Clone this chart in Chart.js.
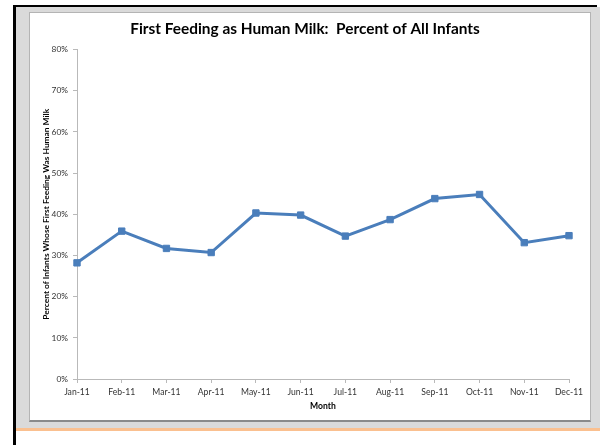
<!DOCTYPE html>
<html>
<head>
<meta charset="utf-8">
<script src="https://cdn.jsdelivr.net/npm/chart.js@4/dist/chart.umd.min.js"></script>
<style>
  html, body { margin: 0; padding: 0; background: #fff; }
  body { width: 600px; height: 445px; position: relative; overflow: hidden; }
  #edge-left { position: absolute; left: 13px; top: 5px; width: 3px; height: 440px; background: #000; }
  #edge-top { position: absolute; left: 13px; top: 5px; width: 584px; height: 2px; background: #000; }
  #slide { position: absolute; left: 16px; top: 7px; width: 584px; height: 421px; background: #dadada; }
  #rule { position: absolute; left: 16px; top: 428px; width: 584px; height: 3px; background: #fac090; }
  #box { position: absolute; left: 29px; top: 12px; width: 560px; height: 407px; background: #fff;
         border: 1px solid #b4b4b4; border-bottom: 2px solid #8a8a8a; }
  #wrap { position: absolute; left: 29px; top: 12px; width: 562px; height: 409px; }
</style>
</head>
<body>
<div id="slide"></div>
<div id="edge-top"></div>
<div id="edge-left"></div>
<div id="rule"></div>
<div id="box"></div>
<div id="wrap"><canvas id="chart" width="562" height="409"></canvas></div>
<script>
const months = ['Jan-11', 'Feb-11', 'Mar-11', 'Apr-11', 'May-11', 'Jun-11',
                'Jul-11', 'Aug-11', 'Sep-11', 'Oct-11', 'Nov-11', 'Dec-11'];
const humanMilkPct = [28.2, 35.9, 31.7, 30.7, 40.3, 39.8, 34.7, 38.7, 43.8, 44.8, 33.1, 34.8];

const font = 'Lato, "Liberation Sans", sans-serif';
const axisGrey = '#b9b9b9';

new Chart(document.getElementById('chart').getContext('2d'), {
  type: 'line',
  data: {
    labels: months,
    datasets: [{
      data: humanMilkPct,
      borderColor: '#4a7ebb',
      backgroundColor: '#4a7ebb',
      borderWidth: 3,
      pointStyle: 'rect',
      pointRadius: 4.5,
      pointBorderWidth: 1,
      tension: 0
    }]
  },
  options: {
    responsive: false,
    animation: false,
    layout: { padding: { left: 12, right: 22, top: 0, bottom: 8 } },
    plugins: {
      legend: { display: false },
      tooltip: { enabled: false },
      title: {
        display: true,
        text: 'First Feeding as Human Milk:  Percent of All Infants',
        color: '#000',
        font: { family: font, size: 15.4, weight: 'bold' },
        padding: { top: 8, bottom: 11 }
      }
    },
    scales: {
      x: {
        grid: { drawOnChartArea: false, drawTicks: true, tickLength: 4, color: axisGrey },
        border: { color: axisGrey, width: 1 },
        ticks: { color: '#333', font: { family: font, size: 8.6 }, padding: 4, maxRotation: 0, autoSkip: false },
        title: {
          display: true, text: 'Month', color: '#000',
          font: { family: font, size: 8.6, weight: 'bold' }, padding: { top: 2, bottom: 2 }
        },
        afterFit: (s) => { s.height = 34; }
      },
      y: {
        min: 0,
        max: 80,
        grid: { drawOnChartArea: false, drawTicks: true, tickLength: 4, color: axisGrey },
        border: { color: axisGrey, width: 1 },
        ticks: {
          stepSize: 10, color: '#333', padding: 5,
          font: { family: font, size: 8.4 },
          callback: (v) => v + '%'
        },
        title: {
          display: true, text: 'Percent of Infants Whose First Feeding Was Human Milk', color: '#000',
          font: { family: font, size: 8.4, weight: 'bold' }, padding: { top: 0, bottom: 0 }
        },
        afterFit: (s) => { s.width = 36; }
      }
    }
  }
});
</script>
</body>
</html>
